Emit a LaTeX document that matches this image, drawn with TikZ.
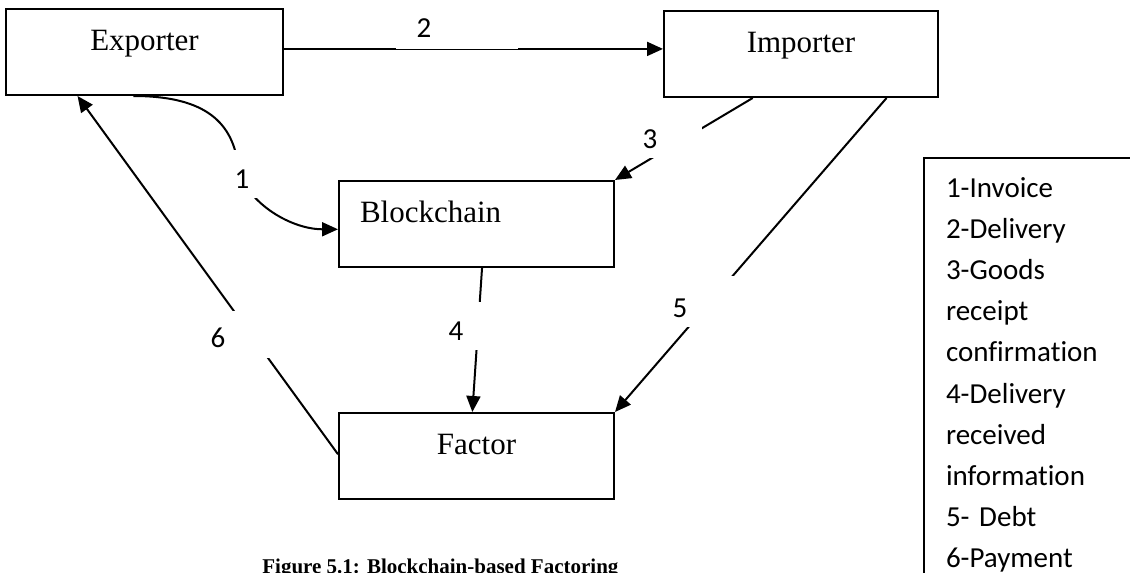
\documentclass[tikz,border=0pt]{standalone}
\usepackage{fontspec}
\setmainfont{Liberation Serif}
\newfontfamily\legendfont[Ligatures=NoCommon]{Carlito}
\usetikzlibrary{arrows.meta,calc}

\begin{document}
\begin{tikzpicture}[x=0.5pt,y=-0.5pt,
  every node/.style={inner sep=0pt},
  party/.style={draw, line width=1pt, minimum width=137.5pt,
    text height=20.5pt, text depth=22.5pt,
    font=\fontsize{15.5pt}{18pt}\selectfont},
  flow/.style={line width=1pt, -{Triangle[length=8pt,width=7pt]}},
  tag/.style={fill=white, font=\legendfont\fontsize{14.5pt}{17pt}\selectfont},
]
\useasboundingbox (0,0) rectangle (1130,573);
\clip (0,0) rectangle (1130,573);
\fill[white] (0,0) rectangle (1130,573);

% parties
\node[party, minimum width=138.5pt] (exp) at (144.5,52) {Exporter};
\node[party, minimum width=137pt] (imp) at (801,54) {Importer};
\node[party, text width=116.5pt, inner xsep=10.5pt, align=left] (blk) at (476.5,224) {Blockchain};
\node[party] (fac) at (476.5,456) {Factor};

% flows
\draw[flow] ($(exp.north east)!0.465!(exp.south east)$) coordinate (d0) -- (d0 -| imp.west);
\draw[flow] ($(imp.south west)!0.325!(imp.south east)$) -- (blk.north east);
\draw[flow] ($(imp.south west)!0.81!(imp.south east)$) -- (fac.north east);
\draw[flow] ($(blk.south west)!0.52!(blk.south east)$) -- ($(fac.north west)!0.485!(fac.north east)$);
\draw[flow] ($(fac.north west)!0.48!(fac.south west)$) -- ($(exp.south west)!0.26!(exp.south east)$);
\coordinate (bend) at (238,165);
\draw[flow] ($(exp.south west)!0.46!(exp.south east)$)
  .. controls +(66,0) and +(-6,-47) .. (bend)
  .. controls +(5,35) and +(-49,0) .. ($(blk.north west)!0.56!(blk.south west)$);

% step numbers on white label boxes
\node[tag, minimum width=20pt, text height=19pt, text depth=5pt] (n1) at (242,174) {1};
\node[tag, text width=40.35pt, inner xsep=10.3pt, align=left, text height=13.5pt, text depth=6pt] (n2) at (457,29.5) {2};
\node[tag, minimum width=52pt, text height=13pt, text depth=5pt] (n3) at (650,140) {3};
\node[tag, minimum width=28pt, text height=19pt, text depth=5pt] (n4) at (456,326) {4};
\node[tag, minimum width=54pt, text height=20.5pt, text depth=5pt] (n5) at (680,301.5) {5};
\node[tag, minimum width=52pt, text height=18pt, text depth=5.5pt] (n6) at (218,334.5) {6};

% legend
\node[draw, line width=1pt, anchor=north west, text width=100pt, inner xsep=11pt,
  align=left, text height=19.5pt, text depth=220pt,
  font=\legendfont\fontsize{14.5pt}{20.6pt}\selectfont] (key) at (923,157)
  {1-Invoice\\2-Delivery\\3-Goods\\receipt\\confirmation\\4-Delivery\\received\\information\\5- Debt\\6-Payment};

% caption
\node[anchor=base west, font=\bfseries\fontsize{10.5pt}{12pt}\selectfont] (cap) at (262,573)
  {Figure 5.1: Blockchain-based Factoring};
\end{tikzpicture}
\end{document}
